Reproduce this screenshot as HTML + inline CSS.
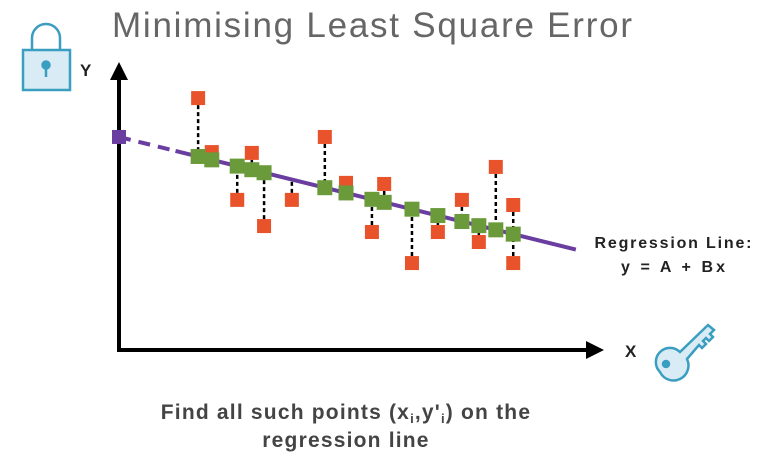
<!DOCTYPE html>
<html><head><meta charset="utf-8"><style>
body{margin:0;background:#fff;width:758px;height:460px;overflow:hidden;font-family:"Liberation Sans",sans-serif}
svg{display:block}
</style></head><body>
<svg width="758" height="460" id="chart">
<text x="112" y="37" font-size="35" fill="#666" textLength="520" lengthAdjust="spacing">Minimising Least Square Error</text>
<g stroke="#3a9ec0" stroke-width="2.5" fill="none">
<path d="M32 50 V38 a14 14 0 0 1 28 0 V50"/>
<rect x="23" y="50" width="47" height="40" fill="#d9ecf5"/>
<circle cx="46" cy="65" r="3.5" fill="#3a9ec0"/><line x1="46" y1="66" x2="46" y2="77"/>
</g>
<text x="80" y="76" font-size="17" font-weight="bold" fill="#222">Y</text>
<g stroke="#000" stroke-width="4" fill="#000">
<line x1="119" y1="78" x2="119" y2="351"/><polygon points="119,62 110,80 128,80" stroke="none"/>
<line x1="117" y1="350" x2="588" y2="350"/><polygon points="604,350 586,341 586,359" stroke="none"/>
</g>
<text x="625" y="357" font-size="17" font-weight="bold" fill="#222">X</text>
<g stroke="#3a9ec0" stroke-width="2.5" fill="#d9ecf5">
<path d="M660 372 a14 14 0 1 1 20 -20 L708 325 l6 5 l-4 4 l3 3 l-4 4 l-3 -3 l-3 3 l3 3 l-4 4 l-3 -3 L687 359 a14 14 0 0 1 -27 13 Z"/>
<circle cx="666" cy="364" r="3" fill="#3a9ec0"/>
</g>
<text x="673" y="248" font-size="16" font-weight="bold" fill="#222" text-anchor="middle" textLength="157" lengthAdjust="spacing">Regression Line:</text>
<text x="673" y="272" font-size="16" font-weight="bold" fill="#222" text-anchor="middle" textLength="104" lengthAdjust="spacing">y = A + Bx</text>
<text x="346" y="419" font-size="21" font-weight="bold" fill="#444" text-anchor="middle" letter-spacing="1.2">Find all such points (x<tspan font-size="13" dy="4">i</tspan><tspan dy="-4">,y'</tspan><tspan font-size="13" dy="4">i</tspan><tspan dy="-4">) on the</tspan></text>
<text x="346" y="447" font-size="21" font-weight="bold" fill="#444" text-anchor="middle" letter-spacing="1.2">regression line</text>
<g id="plot"></g>
</svg>
<script>
const xVals=[16.8,19.7,25.1,28.2,30.8,36.7,43.7,48.2,53.7,56.3,62.2,67.7,72.8,76.4,80,83.7,83.7];
const yActual=[93.3,73.3,55.6,73,45.9,55.6,78.9,61.9,43.7,61.5,32.2,43.7,55.6,40,67.8,53.7,32.2];
const showFit=[1,1,1,1,1,0,1,1,1,1,1,1,1,1,1,1,0];
const intercept=78.9, slope=-0.43;
const xMaxData=97;
const sx=x=>119+x*4.71, sy=y=>350-y*2.7;
const NS="http://www.w3.org/2000/svg", g=document.getElementById('plot');
function mk(t,a){const e=document.createElementNS(NS,t);for(const k in a)e.setAttribute(k,a[k]);g.appendChild(e);return e;}
const fit=x=>intercept+slope*x;
let l=mk('line',{x1:sx(0),y1:sy(fit(0)),x2:sx(12),y2:sy(fit(12)),stroke:'#6a3ea0','stroke-width':4,'stroke-dasharray':'12 8'});


l=mk('line',{x1:sx(12),y1:sy(fit(12)),x2:sx(xMaxData),y2:sy(fit(xMaxData)),stroke:'#6a3ea0','stroke-width':4});


let ic=mk('rect',{x:sx(0)-7,y:sy(intercept)-7,width:14,height:14,fill:'#6a3ea0'});


xVals.forEach((x,i)=>{
 const px=sx(x), pa=sy(yActual[i]), pf=sy(fit(x));
 const d=mk('line',{x1:px,y1:pa,x2:px,y2:pf,stroke:'#000','stroke-width':2.5,'stroke-dasharray':'4 3'});
 
 
});
xVals.forEach((x,i)=>{
 const px=sx(x), pa=sy(yActual[i]);
 const r=mk('rect',{x:px-7,y:pa-7,width:14,height:14,fill:'#e8532b'});
 
 
});
xVals.forEach((x,i)=>{
 if(!showFit[i])return;
 const px=sx(x), pf=sy(fit(x));
 const r=mk('rect',{x:px-7.5,y:pf-7.5,width:15,height:15,fill:'#6a9a3a'});
 
 
});
</script>
</body></html>
